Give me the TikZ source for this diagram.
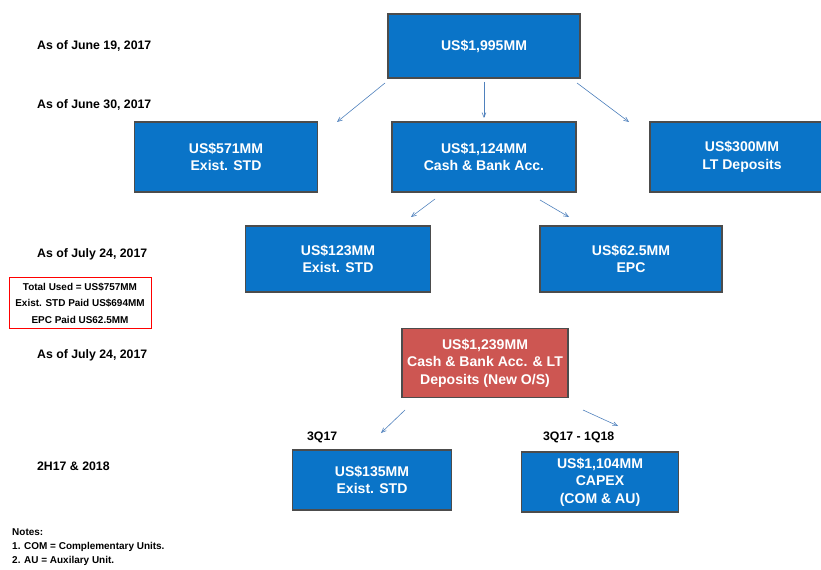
\documentclass[tikz,border=0pt]{standalone}
\usepackage{fontspec}
\setmainfont{Liberation Sans}
\usetikzlibrary{arrows,shadows,positioning}
\definecolor{boxblue}{RGB}{10,116,200}
\definecolor{boxred}{RGB}{205,86,82}
\definecolor{linkblue}{RGB}{79,129,189}

\begin{document}
\begin{tikzpicture}[x=0.03cm,y=-0.03cm,>=angle 45,
  main node/.style={rectangle,draw=black!70,line width=0.9pt,fill=boxblue,text=white,
    font=\bfseries\fontsize{12}{15}\selectfont,align=center,inner sep=0pt,
    drop shadow={shadow xshift=0.8pt,shadow yshift=-0.8pt,opacity=0.45}},
  date label/.style={anchor=west,font=\bfseries\fontsize{10.5}{12}\selectfont},
  small label/.style={font=\bfseries\fontsize{8.5}{14}\selectfont},
  link/.style={->,draw=linkblue,line width=0.5pt}]
          \useasboundingbox[fill=white] (0,0) rectangle (821,570);
          % dates on the left
          \node[date label] (d1) at (33,46) {As of June 19, 2017};
          \node[date label] (d2) at (33,105) {As of June 30, 2017};
          \node[date label] (d3) at (33,254) {As of July 24, 2017};
          \node[date label] (d4) at (33,355) {As of July 24, 2017};
          \node[date label] (d5) at (33,466) {2H17 \& 2018};
          % boxes
          \node[main node,minimum width=5.76cm,minimum height=1.92cm] (total) at (484,46) {US\$1,995MM};
          \node[main node,minimum width=5.49cm,minimum height=2.1cm] (std) at (226,157) {US\$571MM\\Exist. STD};
          \node[main node,minimum width=5.52cm,minimum height=2.1cm] (cash) at (484,157) {US\$1,124MM\\Cash \& Bank Acc.};
          \node[main node,minimum width=5.52cm,minimum height=2.1cm] (lt) at (742,157) {US\$300MM\\LT Deposits};
          \node[main node,minimum width=5.55cm,minimum height=1.98cm] (std2) at (338,259) {US\$123MM\\Exist. STD};
          \node[main node,minimum width=5.46cm,minimum height=1.98cm] (epc) at (631,259) {US\$62.5MM\\EPC};
          \node[main node,fill=boxred,minimum width=4.98cm,minimum height=2.07cm] (new) at (485,363) {US\$1,239MM\\Cash \& Bank Acc. \& LT\\Deposits (New O/S)};
          \node[main node,minimum width=4.77cm,minimum height=1.8cm] (std3) at (372,480) {US\$135MM\\Exist. STD};
          \node[main node,minimum width=4.71cm,minimum height=1.8cm] (capex) at (600,482) {US\$1,104MM\\CAPEX\\(COM \& AU)};
          % summary box
          \node[small label,draw=red,line width=0.8pt,align=center,minimum width=4.26cm,minimum height=1.53cm,inner sep=0pt] (used) at (80,303) {Total Used = US\$757MM\\Exist. STD Paid US\$694MM\\EPC Paid US62.5MM};
          % period labels
          \node[date label] (q1) at (303,437) {3Q17};
          \node[date label] (q2) at (539,437) {3Q17 - 1Q18};
          % notes
          \node[small label,anchor=north west,align=left,inner sep=0pt,font=\bfseries\fontsize{8.5}{12}\selectfont] (notes) at (12,528) {Notes:\\1. COM = Complementary Units.\\2. AU = Auxilary Unit.};
          % arrow ends
          \coordinate (a1) at (385,83);
          \coordinate (b1) at (337,122);
          \coordinate (a2) at (484,82);
          \coordinate (b2) at (484,118);
          \coordinate (a3) at (577,83);
          \coordinate (b3) at (629,122);
          \coordinate (a4) at (435,199);
          \coordinate (b4) at (411,217);
          \coordinate (a5) at (540,200);
          \coordinate (b5) at (569,217);
          \coordinate (a6) at (405,410);
          \coordinate (b6) at (381,433);
          \coordinate (a7) at (583,410);
          \coordinate (b7) at (618,426);
          \draw[link] (a1)--(b1);
          \draw[link] (a2)--(b2);
          \draw[link] (a3)--(b3);
          \draw[link] (a4)--(b4);
          \draw[link] (a5)--(b5);
          \draw[link] (a6)--(b6);
          \draw[link] (a7)--(b7);
        \end{tikzpicture}
\end{document}
